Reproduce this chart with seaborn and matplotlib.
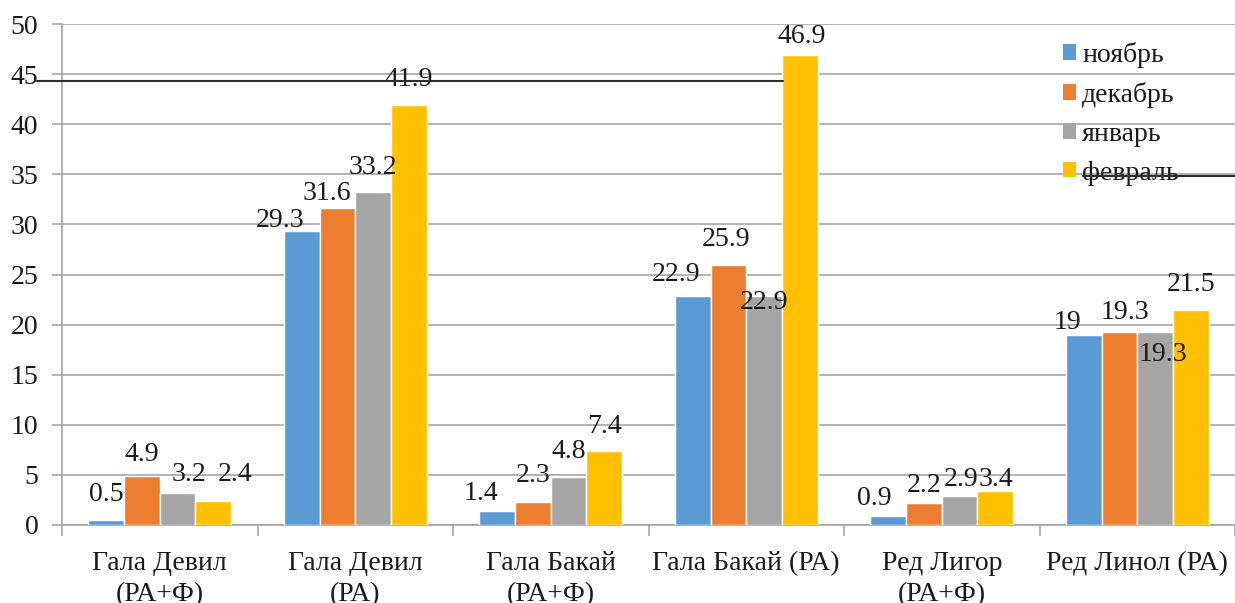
import matplotlib
matplotlib.use("Agg")
import matplotlib.pyplot as plt
from matplotlib.patches import Patch
import seaborn as sns
import pandas as pd

# Sorts and treatments
categories = [
    "Гала Девил\n(РА+Ф)",
    "Гала Девил\n(РА)",
    "Гала Бакай\n(РА+Ф)",
    "Гала Бакай (РА)",
    "Ред Лигор\n(РА+Ф)",
    "Ред Линол (РА)",
]
months = ["ноябрь", "декабрь", "январь", "февраль"]

# Values per month, one entry per category
nov = [0.5, 29.3, 1.4, 22.9, 0.9, 19.0]
dec = [4.9, 31.6, 2.3, 25.9, 2.2, 19.3]
jan = [3.2, 33.2, 4.8, 22.9, 2.9, 19.3]
feb = [2.4, 41.9, 7.4, 46.9, 3.4, 21.5]

y_ticks = [0, 5, 10, 15, 20, 25, 30, 35, 40, 45, 50]

colors = ["#5B9BD5", "#ED7D31", "#A5A5A5", "#FFC000"]

# Label nudges in pixels (dx, dy of the label centre from the bar top)
label_offsets = [
    [(0, 25), (0, 21), (11, 18), (22, 26)],
    [(-22, 11), (-11, 15), (0, 25), (0, 26)],
    [(-16, 17), (0, 26), (0, 25), (0, 24)],
    [(-17, 21), (-2, 26), (0, -7), (2, 19)],
    [(-14, 17), (0, 17), (2, 16), (1, 11)],
    [(-16, 12), (6, 19), (8, -23), (0, 25)],
]

series = [nov, dec, jan, feb]
df = pd.DataFrame(
    [
        {"sort": c, "month": m, "value": v}
        for m, vals in zip(months, series)
        for c, v in zip(categories, vals)
    ]
)

sns.set_theme(style="white")
FONT = "Liberation Serif"
plt.rcParams["font.family"] = FONT
text_color = "#1a1a1a"
grid_color = "#9e9e9e"
fs = 20

fig = plt.figure(figsize=(12.35, 6.03), dpi=100)
ax = fig.add_axes([62 / 1235, 78 / 603, 1173 / 1235, 501 / 603])

sns.barplot(
    data=df, x="sort", y="value", hue="month",
    order=categories, hue_order=months, palette=colors,
    width=0.73, gap=0, saturation=1, errorbar=None,
    legend=False, ax=ax, zorder=3,
)

ax.set_xlim(-0.5, len(categories) - 0.5)
ax.set_ylim(0, 50)
ax.set_yticks(y_ticks)
ax.set_yticklabels([str(t) for t in y_ticks], fontfamily=FONT,
                   fontsize=fs, color=text_color)
ax.set_xlabel("")
ax.set_ylabel("")

ax.yaxis.grid(True, color=grid_color, linewidth=1.1, zorder=0)
ax.set_axisbelow(True)
for side in ("top", "right"):
    ax.spines[side].set_visible(False)
for side in ("left", "bottom"):
    ax.spines[side].set_color(grid_color)
    ax.spines[side].set_linewidth(1.1)

ax.tick_params(axis="y", length=7, width=1.1, color=grid_color,
               pad=10, left=True)
ax.set_xticks(range(len(categories)))
ax.set_xticklabels(categories, fontsize=fs, color=text_color,
                   fontfamily=FONT, linespacing=1.28)
ax.tick_params(axis="x", which="major", length=0, pad=19)
ax.set_xticks([i - 0.5 for i in range(len(categories) + 1)], minor=True)
ax.tick_params(axis="x", which="minor", length=8, width=1.1,
               color=grid_color, bottom=True)

# Value labels above each bar
for j, cont in enumerate(ax.containers):
    for bar in cont:
        cx = bar.get_x() + bar.get_width() / 2
        i = int(round(cx))
        val = series[j][i]
        dx, dy = label_offsets[i][j]
        ax.annotate(
            f"{val:g}", xy=(cx, val), xytext=(dx, dy),
            textcoords="offset pixels", ha="center", va="center",
            fontsize=fs, color=text_color, fontfamily=FONT, zorder=5,
        )

# Dark rules running across the plot
ax.axhline(44.35, xmin=-0.021, xmax=0.615, color="#2e2e2e",
           linewidth=1.5, clip_on=False, zorder=6)
ax.axhline(34.8, xmin=0.870, xmax=1.0, color="#2e2e2e",
           linewidth=1.5, clip_on=False, zorder=6)

handles = [Patch(facecolor=c, edgecolor="none") for c in colors]
leg = ax.legend(
    handles, months, loc="upper left",
    bbox_to_anchor=(1063 / 1235, 1 - 42 / 603),
    bbox_transform=fig.transFigure, frameon=False,
    prop={"family": FONT, "size": fs},
    handlelength=0.47, handleheight=0.47,
    handletextpad=0.22, labelspacing=0.5, borderpad=0,
    borderaxespad=0,
)
for t in leg.get_texts():
    t.set_color(text_color)

fig.savefig("out.png", dpi=100)
